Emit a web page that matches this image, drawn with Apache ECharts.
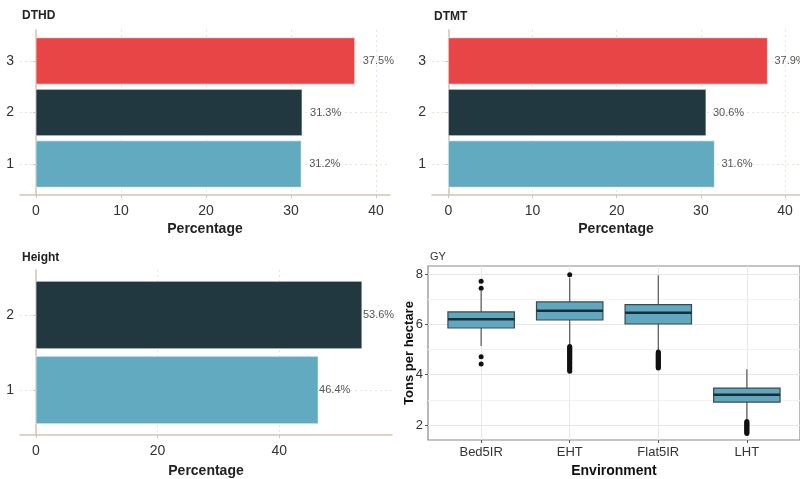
<!DOCTYPE html>
<html>
<head>
<meta charset="utf-8">
<script src="https://cdn.jsdelivr.net/npm/echarts@6/dist/echarts.min.js"></script>
<style>
html,body{margin:0;padding:0;background:#fff;}
#chart{width:800px;height:479px;}
</style>
</head>
<body>
<div id="chart"></div>
<script>
// ---- data ----
const dthdCategories = [1, 2, 3];
const dthdValues = [31.2, 31.3, 37.5];
const dtmtCategories = [1, 2, 3];
const dtmtValues = [31.6, 30.6, 37.9];
const heightCategories = [1, 2];
const heightValues = [46.4, 53.6];
const pctTicks = [0, 10, 20, 30, 40];
const heightTicks = [0, 20, 40];
const barColors = ['#62aac0', '#223840', '#e84646'];

const envNames = ['Bed5IR', 'EHT', 'Flat5IR', 'LHT'];
// [low whisker, Q1, median, Q3, high whisker]
const gyBed5IR = [5.14, 5.86, 6.21, 6.50, 7.33];
const gyEHT = [5.17, 6.18, 6.55, 6.90, 7.85];
const gyFlat5IR = [4.93, 6.02, 6.47, 6.79, 7.96];
const gyLHT = [2.18, 2.91, 3.20, 3.47, 4.22];
const outBed5IR = [7.72, 7.44, 4.72, 4.43];
const outEHT = [7.98, 5.12, 5.08, 5.04, 5.00, 4.96, 4.92, 4.88, 4.84, 4.80, 4.76, 4.72, 4.68, 4.64, 4.60, 4.55, 4.50, 4.45, 4.40, 4.35, 4.30, 4.25, 4.20, 4.14];
const outFlat5IR = [4.90, 4.86, 4.82, 4.78, 4.74, 4.70, 4.66, 4.62, 4.58, 4.54, 4.50, 4.46, 4.42, 4.38, 4.34, 4.30, 4.27];
const outLHT = [2.14, 2.10, 2.06, 2.02, 1.98, 1.94, 1.90, 1.86, 1.82, 1.78, 1.74, 1.70, 1.66];
const gyMajorTicks = [2, 4, 6, 8];
const gyMinorTicks = [3, 5, 7];
const envTicks = [1, 2, 3, 4];

// ---- helpers ----
const FONT = 'Liberation Sans, Arial, sans-serif';
const axisTan = '#d3c4b2';
const gridTan = '#efe4d4';

function barData(cats, vals) {
  return cats.map((c, i) => [vals[i], c]);
}
function barRender(labelGap) {
  return function (params, api) {
    const val = api.value(0), cat = api.value(1);
    const p0 = api.coord([0, cat + 0.45]);
    const p1 = api.coord([val, cat - 0.45]);
    const pc = api.coord([val, cat]);
    return {
      type: 'group',
      children: [
        { type: 'rect', shape: { x: p0[0], y: p0[1], width: p1[0] - p0[0], height: p1[1] - p0[1] },
          style: { fill: barColors[cat - 1], stroke: 'rgba(255,255,255,0.6)', lineWidth: 1 } },
        { type: 'text', x: pc[0] + labelGap, y: pc[1],
          style: { text: val.toFixed(1) + '%', fill: '#555', font: '11px ' + FONT, verticalAlign: 'middle', align: 'left' } }
      ]
    };
  };
}
function barXAxis(gi, min, max, ticks, nameGap) {
  return {
    type: 'value', gridIndex: gi, min: min, max: max,
    name: 'Percentage', nameLocation: 'middle', nameGap: nameGap, nameMoveOverlap: false,
    nameTextStyle: { fontFamily: FONT, fontSize: 14, fontWeight: 'bold', color: '#222' },
    axisLine: { show: true, lineStyle: { color: axisTan, width: 1.5 } },
    axisTick: { show: true, length: 3, customValues: ticks, lineStyle: { color: axisTan } },
    axisLabel: { customValues: ticks, fontFamily: FONT, fontSize: 14, color: '#333', margin: 9 },
    splitLine: { show: true, lineStyle: { color: gridTan, type: [2, 3], width: 1 } }
  };
}
function barYAxis(gi, cats) {
  return {
    type: 'value', gridIndex: gi, min: 0.4, max: cats.length + 0.6,
    axisLine: { show: true, lineStyle: { color: axisTan, width: 1.5 } },
    axisTick: { show: true, length: 3, customValues: cats, lineStyle: { color: axisTan } },
    axisLabel: { customValues: cats, fontFamily: FONT, fontSize: 14, color: '#333', margin: 6 },
    splitLine: { show: true, lineStyle: { color: gridTan, type: [2, 3], width: 1 } }
  };
}
function boxRender(params, api) {
  const x = api.value(0);
  const lo = api.coord([x, api.value(1)]);
  const q1l = api.coord([x - 0.375, api.value(2)]);
  const q1 = api.coord([x, api.value(2)]);
  const medL = api.coord([x - 0.375, api.value(3)]);
  const medR = api.coord([x + 0.375, api.value(3)]);
  const q3r = api.coord([x + 0.375, api.value(4)]);
  const q3 = api.coord([x, api.value(4)]);
  const hi = api.coord([x, api.value(5)]);
  const ws = { stroke: '#555', lineWidth: 1.2 };
  return {
    type: 'group',
    children: [
      { type: 'line', shape: { x1: lo[0], y1: lo[1], x2: q1[0], y2: q1[1] }, style: ws },
      { type: 'line', shape: { x1: q3[0], y1: q3[1], x2: hi[0], y2: hi[1] }, style: ws },
      { type: 'rect', shape: { x: q1l[0], y: q3r[1], width: q3r[0] - q1l[0], height: q1l[1] - q3r[1] },
        style: { fill: '#5fa8bf', stroke: '#3a4a50', lineWidth: 1.2 } },
      { type: 'line', shape: { x1: medL[0], y1: medL[1], x2: medR[0], y2: medR[1] },
        style: { stroke: '#1c2e34', lineWidth: 2.4 } }
    ]
  };
}

const gyStats = [gyBed5IR, gyEHT, gyFlat5IR, gyLHT];
const gyOutliers = [outBed5IR, outEHT, outFlat5IR, outLHT];
const boxData = gyStats.map((s, i) => [i + 1].concat(s));
const outlierData = [];
gyOutliers.forEach((arr, i) => arr.forEach(v => outlierData.push([i + 1, v])));

const chart = echarts.init(document.getElementById('chart'), null, { renderer: 'canvas' });
chart.setOption({
  animation: false,
  backgroundColor: '#fff',
  textStyle: { fontFamily: FONT },
  title: [
    { text: 'DTHD', left: 17, top: 5, textStyle: { fontFamily: FONT, fontSize: 12, fontWeight: 'bold', color: '#222' } },
    { text: 'DTMT', left: 429, top: 6, textStyle: { fontFamily: FONT, fontSize: 12, fontWeight: 'bold', color: '#222' } },
    { text: 'Height', left: 17, top: 247, textStyle: { fontFamily: FONT, fontSize: 12, fontWeight: 'bold', color: '#222' } },
    { text: 'GY', left: 425, top: 246, textStyle: { fontFamily: FONT, fontSize: 11, fontWeight: 'normal', color: '#333' } }
  ],
  grid: [
    { left: 20, top: 30, width: 370, height: 165 },
    { left: 432, top: 30, width: 368, height: 165 },
    { left: 20, top: 270, width: 372, height: 165 },
    { left: 428, top: 266, width: 378, height: 174, show: true, borderColor: '#8a8a8a', borderWidth: 1.2, backgroundColor: 'transparent' }
  ],
  xAxis: [
    barXAxis(0, -1.88, 41.65, pctTicks, 27),
    barXAxis(1, -1.94, 41.77, pctTicks, 27),
    barXAxis(2, -2.63, 58.55, heightTicks, 29),
    {
      type: 'value', gridIndex: 3, min: 0.4, max: 4.6,
      name: 'Environment', nameLocation: 'middle', nameGap: 24, nameMoveOverlap: false,
      nameTextStyle: { fontFamily: FONT, fontSize: 14, fontWeight: 'bold', color: '#111' },
      axisLine: { show: false },
      axisTick: { show: true, length: 3, customValues: envTicks, lineStyle: { color: '#555' } },
      axisLabel: { customValues: envTicks, formatter: v => envNames[Math.round(v) - 1], fontFamily: FONT, fontSize: 13, color: '#333', margin: 6 },
      splitLine: { show: true, lineStyle: { color: '#e8e8e8', width: 1 } }
    }
  ],
  yAxis: [
    barYAxis(0, dthdCategories),
    barYAxis(1, dtmtCategories),
    barYAxis(2, heightCategories),
    {
      type: 'value', gridIndex: 3, min: 1.4, max: 8.33,
      name: 'Tons per hectare', nameLocation: 'middle', nameGap: 12, nameMoveOverlap: false,
      nameTextStyle: { fontFamily: FONT, fontSize: 13, fontWeight: 'bold', color: '#111' },
      axisLine: { show: false },
      axisTick: { show: true, length: 3, customValues: gyMajorTicks, lineStyle: { color: '#555' } },
      axisLabel: { customValues: gyMajorTicks, fontFamily: FONT, fontSize: 13, color: '#333', margin: 5 },
      splitLine: { show: true, lineStyle: { color: '#e6e6e6', width: 1.2 } }
    },
    {
      type: 'value', gridIndex: 3, min: 1.4, max: 8.33,
      axisLine: { show: false },
      axisTick: { show: false, customValues: gyMinorTicks },
      axisLabel: { show: false, customValues: gyMinorTicks },
      splitLine: { show: true, lineStyle: { color: '#f2f2f2', width: 1 } }
    }
  ],
  series: [
    { type: 'custom', xAxisIndex: 0, yAxisIndex: 0, encode: { x: 0, y: 1 }, data: barData(dthdCategories, dthdValues), renderItem: barRender(8), clip: false },
    { type: 'custom', xAxisIndex: 1, yAxisIndex: 1, encode: { x: 0, y: 1 }, data: barData(dtmtCategories, dtmtValues), renderItem: barRender(7), clip: false },
    { type: 'custom', xAxisIndex: 2, yAxisIndex: 2, encode: { x: 0, y: 1 }, data: barData(heightCategories, heightValues), renderItem: barRender(1), clip: false },
    { type: 'custom', xAxisIndex: 3, yAxisIndex: 3, encode: { x: 0, y: [1, 2, 3, 4, 5] }, data: boxData, renderItem: boxRender },
    { type: 'scatter', xAxisIndex: 3, yAxisIndex: 3, data: outlierData, symbolSize: 5, itemStyle: { color: '#111', opacity: 1 } }
  ]
});
</script>
</body>
</html>
